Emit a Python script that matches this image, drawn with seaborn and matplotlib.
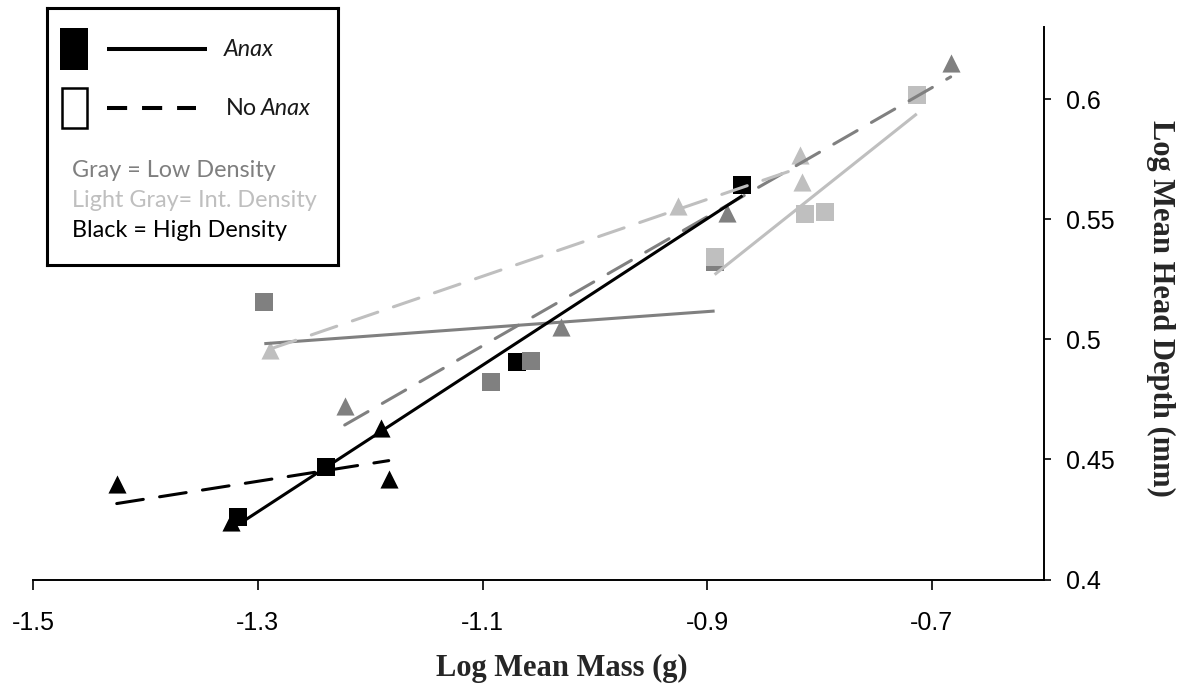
import numpy as np
import pandas as pd
import matplotlib
matplotlib.use("Agg")
import matplotlib.pyplot as plt
import seaborn as sns
from matplotlib.patches import Rectangle
from matplotlib.lines import Line2D

# ---------------- data ----------------
anax_high_x = [-1.3175, -1.2394, -1.0690, -0.8685]
anax_high_y = [0.4262, 0.4470, 0.4906, 0.5642]
noanax_high_x = [-1.4257, -1.3237, -1.1906, -1.1835]
noanax_high_y = [0.4399, 0.4241, 0.4632, 0.4420]

anax_low_x = [-1.2943, -1.0920, -1.0565, -0.8933]
anax_low_y = [0.5156, 0.4823, 0.4911, 0.5322]
noanax_low_x = [-1.2227, -1.0301, -0.8827, -0.6831]
noanax_low_y = [0.4724, 0.5052, 0.5526, 0.6150]

anax_int_x = [-0.8933, -0.8126, -0.7949, -0.7133]
anax_int_y = [0.5343, 0.5522, 0.5530, 0.6017]
noanax_int_x = [-1.2890, -0.9261, -0.8170, -0.8152]
noanax_int_y = [0.4956, 0.5555, 0.5767, 0.5655]

x_ticks = [-1.5, -1.3, -1.1, -0.9, -0.7]
x_tick_labels = ["-1.5", "-1.3", "-1.1", "-0.9", "-0.7"]
y_ticks = [0.4, 0.45, 0.5, 0.55, 0.6]
y_tick_labels = ["0.4", "0.45", "0.5", "0.55", "0.6"]

x_label = "Log Mean Mass (g)"
y_label = "Log Mean Head Depth (mm)"
legend_lines = ["Anax", "No", "Anax"]
legend_density = ["Gray = Low Density", "Light Gray= Int. Density", "Black = High Density"]

# ---------------- build table ----------------
series = [
    ("High", "Anax", anax_high_x, anax_high_y),
    ("High", "No Anax", noanax_high_x, noanax_high_y),
    ("Low", "Anax", anax_low_x, anax_low_y),
    ("Low", "No Anax", noanax_low_x, noanax_low_y),
    ("Int", "Anax", anax_int_x, anax_int_y),
    ("Int", "No Anax", noanax_int_x, noanax_int_y),
]
rows = []
for dens, pred, xs, ys in series:
    for xv, yv in zip(xs, ys):
        rows.append({"density": dens, "predator": pred, "x": xv, "y": yv})
df = pd.DataFrame(rows)

colors = {"High": "#000000", "Low": "#808080", "Int": "#BFBFBF"}
markers = {"Anax": "s", "No Anax": "^"}

sns.set_style("white")
plt.rcParams["font.family"] = ["Liberation Sans", "DejaVu Sans"]
plt.rcParams["axes.unicode_minus"] = False

W, H = 1182, 687
fig = plt.figure(figsize=(W / 100, H / 100), dpi=100)
ax_l, ax_r, ax_t, ax_b = 33.3, 1044, 27, 579.5
ax = fig.add_axes([ax_l / W, 1 - ax_b / H, (ax_r - ax_l) / W, (ax_b - ax_t) / H])

# markers (drawn first)
for dens in ["High", "Low", "Int"]:
    for pred in ["Anax", "No Anax"]:
        sub = df[(df.density == dens) & (df.predator == pred)]
        sns.scatterplot(data=sub, x="x", y="y", color=colors[dens],
                        marker=markers[pred], s=170, linewidth=0, ax=ax,
                        zorder=2)

# trend lines (linear fits, drawn on top)
for dens in ["Low", "Int", "High"]:
    for pred in ["Anax", "No Anax"]:
        sub = df[(df.density == dens) & (df.predator == pred)]
        ls = "-" if pred == "Anax" else (0, (8.8, 5.4))
        sns.regplot(data=sub, x="x", y="y", scatter=False, ci=None,
                    truncate=True, color=colors[dens], ax=ax,
                    line_kws=dict(lw=2.2, ls=ls, dash_capstyle="round",
                                  solid_capstyle="butt", zorder=3))

ax.set_xlim(-1.5, -0.6)
ax.set_ylim(0.4, 0.63)
ax.set_xticks(x_ticks)
ax.set_xticklabels(x_tick_labels)
ax.set_yticks(y_ticks)
ax.set_yticklabels(y_tick_labels)
ax.yaxis.tick_right()
ax.yaxis.set_label_position("right")
for s in ["left", "top"]:
    ax.spines[s].set_visible(False)
for s in ["bottom", "right"]:
    ax.spines[s].set_visible(True)
    ax.spines[s].set_color("black")
    ax.spines[s].set_linewidth(1.4)
ax.tick_params(axis="x", direction="out", length=7, width=1.2, pad=16,
               labelsize=18, colors="black", bottom=True)
ax.tick_params(axis="y", direction="out", length=5, width=1.2, pad=11,
               labelsize=18, colors="black", right=True, left=False)
ax.grid(False)
ax.set_facecolor("white")

ax.set_xlabel(x_label, fontfamily="Liberation Serif", fontweight="bold",
              fontsize=22, va="baseline")
ax.set_ylabel(y_label, fontfamily="Liberation Serif", fontweight="bold",
              fontsize=22, rotation=270, va="center")
ax.xaxis.set_label_coords((562 - ax_l) / (ax_r - ax_l), -(676 - ax_b) / (ax_b - ax_t))
ax.yaxis.set_label_coords((1161 - ax_l) / (ax_r - ax_l), (ax_b - 308) / (ax_b - ax_t))

# ---------------- legend panel (pixel coords) ----------------
lx0, ly0, lx1, ly1 = 47, 8, 338, 265
lg = fig.add_axes([lx0 / W, 1 - ly1 / H, (lx1 - lx0) / W, (ly1 - ly0) / H])
lg.set_xlim(lx0, lx1)
lg.set_ylim(ly1, ly0)
lg.set_xticks([])
lg.set_yticks([])
for s in lg.spines.values():
    s.set_visible(True)
    s.set_color("black")
    s.set_linewidth(2.2)
lg.set_facecolor("white")

lg.add_patch(Rectangle((60, 28), 28, 42, facecolor="black", edgecolor="black", lw=0))
lg.add_patch(Rectangle((62, 88), 25, 40, facecolor="white", edgecolor="black", lw=1.8))
lg.add_line(Line2D([107, 207], [49, 49], color="black", lw=2.9, solid_capstyle="butt"))
lg.add_line(Line2D([107, 196], [108, 108], color="black", lw=2.9,
                   ls=(0, (5.0, 3.7)), dash_capstyle="butt"))

lfont = ["Lato", "DejaVu Sans"]
fs = 16.8
lg.text(224, 49, legend_lines[0], fontsize=fs, style="italic", family=lfont,
        va="center", ha="left", color="#1a1a1a")
lg.text(226, 108, legend_lines[1], fontsize=fs, family=lfont,
        va="center", ha="left", color="#1a1a1a")
lg.text(261, 108, legend_lines[2], fontsize=fs, style="italic", family=lfont,
        va="center", ha="left", color="#1a1a1a")
dens_colors = ["#7F7F7F", "#BFBFBF", "#000000"]
for i, (t, c) in enumerate(zip(legend_density, dens_colors)):
    lg.text(72, 170 + 30 * i, t, fontsize=fs, family=lfont, va="center",
            ha="left", color=c)

fig.savefig("out.png", dpi=100, facecolor="white")
